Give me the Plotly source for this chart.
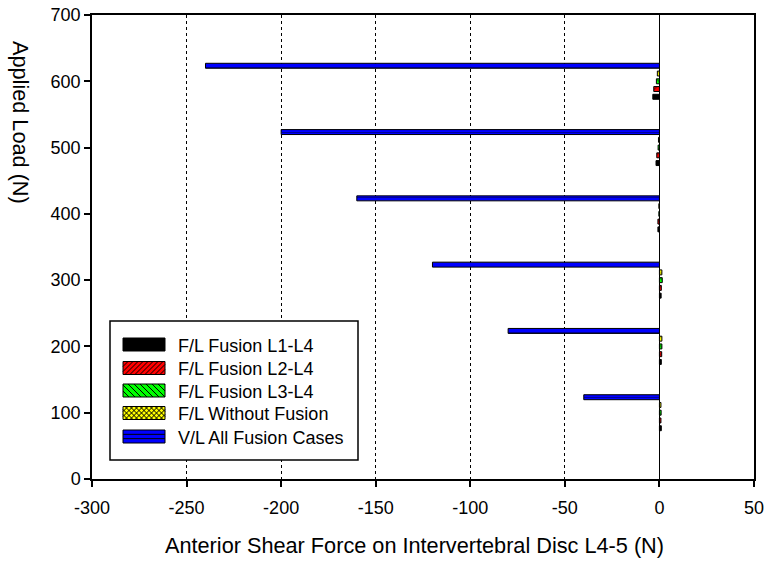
import plotly.graph_objects as go

loads = [100, 200, 300, 400, 500, 600]
fl_l1_l4 = [1.0, 1.0, 0.9, -0.8, -1.8, -3.5]
fl_l2_l4 = [0.8, 1.2, 1.0, -0.8, -1.4, -3.0]
fl_l3_l4 = [0.9, 1.3, 1.5, -0.3, -0.7, -1.6]
fl_without = [0.8, 1.3, 1.3, -0.3, -0.5, -1.1]
vl_all = [-40, -80, -120, -160, -200, -240]

x_ticks = [-300, -250, -200, -150, -100, -50, 0, 50]
x_ticktext = ["-300", "-250", "-200", "-150", "-100", "-50", "0", "50"]

names = ["F/L Fusion L1-L4", "F/L Fusion L2-L4", "F/L Fusion L3-L4",
         "F/L Without Fusion", "V/L All Fusion Cases"]
series = [fl_l1_l4, fl_l2_l4, fl_l3_l4, fl_without, vl_all]
colors = ["#000000", "#ff0000", "#00ff00", "#ffff00", "#0000ff"]
patterns = [
    dict(shape=""),
    dict(shape="/", bgcolor="#ff0000", fgcolor="#000000", size=6, solidity=0.2),
    dict(shape="\\", bgcolor="#00ff00", fgcolor="#000000", size=6, solidity=0.2),
    dict(shape="x", bgcolor="#ffff00", fgcolor="#000000", size=5, solidity=0.2),
    dict(shape="-", bgcolor="#0000ff", fgcolor="#000000", size=5, solidity=0.15),
]
hatch = ["", "/", "\\", "x", "-"]

fig = go.Figure()
for nm, vals, c, pat in zip(names, series, colors, patterns):
    fig.add_trace(go.Bar(
        y=loads, x=vals, orientation="h", name=nm, showlegend=False,
        marker=dict(color=c, pattern=pat, line=dict(color="#000000", width=1)),
    ))

W, H = 766, 561
L, R, T, B = 92, 12, 15, 82
pw, ph = W - L - R, H - T - B


def px(x):
    return (x - L) / pw


def py(y):
    return (H - B - y) / ph


def diag_segments(x0, x1, y0, y1, step, direction):
    h = y1 - y0
    segs = []
    c = x0 - h
    while c < x1:
        ta = max(0.0, (x0 - c) / h)
        tb = min(1.0, (x1 - c) / h)
        if tb > ta:
            xa, xb = c + ta * h, c + tb * h
            if direction == "/":
                ya, yb = y1 - ta * h, y1 - tb * h
            else:
                ya, yb = y0 + ta * h, y0 + tb * h
            segs.append((xa, ya, xb, yb))
        c += step
    return segs


def seg_path(segs):
    return " ".join(f"M{px(a):.5f},{py(b):.5f} L{px(c):.5f},{py(d):.5f}" for a, b, c, d in segs)


font = "Liberation Sans, Arial, sans-serif"

shapes = [dict(type="rect", xref="paper", yref="paper",
               x0=px(110), x1=px(358), y0=py(460), y1=py(321),
               line=dict(color="black", width=1.5), fillcolor="white",
               layer="above")]
annotations = []
row_centers = [344.5, 368.0, 390.5, 413.0, 436.5]
sx0, sx1, sh = 123, 165, 13
for i, (nm, c, hs) in enumerate(zip(names, colors, hatch)):
    yc = row_centers[i]
    top, bot = yc - sh / 2, yc + sh / 2
    shapes.append(dict(type="rect", xref="paper", yref="paper",
                       x0=px(sx0), x1=px(sx1), y0=py(bot), y1=py(top),
                       fillcolor=c, line=dict(color="black", width=1), layer="above"))
    segs = []
    if hs == "/":
        segs = diag_segments(sx0, sx1, top, bot, 5, "/")
    elif hs == "\\":
        segs = diag_segments(sx0, sx1, top, bot, 6, "\\")
    elif hs == "x":
        segs = diag_segments(sx0, sx1, top, bot, 5, "/") + diag_segments(sx0, sx1, top, bot, 5, "\\")
    elif hs == "-":
        segs = [(sx0, top + sh / 3, sx1, top + sh / 3), (sx0, top + 2 * sh / 3, sx1, top + 2 * sh / 3)]
    if segs:
        shapes.append(dict(type="path", xref="paper", yref="paper", path=seg_path(segs),
                           line=dict(color="black", width=1), layer="above"))
    annotations.append(dict(text=nm, xref="paper", yref="paper", x=px(176), y=py(yc + 1),
                            showarrow=False, xanchor="left", yanchor="middle",
                            font=dict(family=font, size=18, color="black")))

annotations += [
    dict(text="Anterior Shear Force on Intervertebral Disc L4-5 (N)",
         xref="paper", yref="paper", x=px(414), y=py(545),
         showarrow=False, font=dict(size=21.7), xanchor="center", yanchor="middle"),
    dict(text="Applied Load (N)", xref="paper", yref="paper",
         x=px(21), y=py(122), textangle=90,
         showarrow=False, font=dict(size=21.7), xanchor="center", yanchor="middle"),
]

fig.update_layout(
    width=W, height=H,
    margin=dict(l=L, r=R, t=T, b=B, autoexpand=False),
    paper_bgcolor="white", plot_bgcolor="white",
    barmode="group", bargap=0.415, bargroupgap=0.36,
    font=dict(family=font, size=18, color="black"),
    showlegend=False,
    xaxis=dict(range=[-300, 50], tickvals=x_ticks, ticktext=x_ticktext,
               showline=True, linecolor="black", linewidth=1.5, mirror=True,
               ticks="outside", ticklen=6, tickcolor="black", tickwidth=1.5,
               showgrid=True, gridcolor="black", griddash="dot", gridwidth=1,
               zeroline=True, zerolinecolor="black", zerolinewidth=1,
               tickfont=dict(size=18), ticklabelstandoff=6),
    yaxis=dict(range=[0, 700], dtick=100, tick0=0,
               showline=True, linecolor="black", linewidth=1.5, mirror=True,
               ticks="outside", ticklen=6, tickcolor="black", tickwidth=1.5,
               showgrid=False, zeroline=False,
               tickfont=dict(size=18)),
    shapes=shapes,
    annotations=annotations,
)

fig.write_html("out.html")
